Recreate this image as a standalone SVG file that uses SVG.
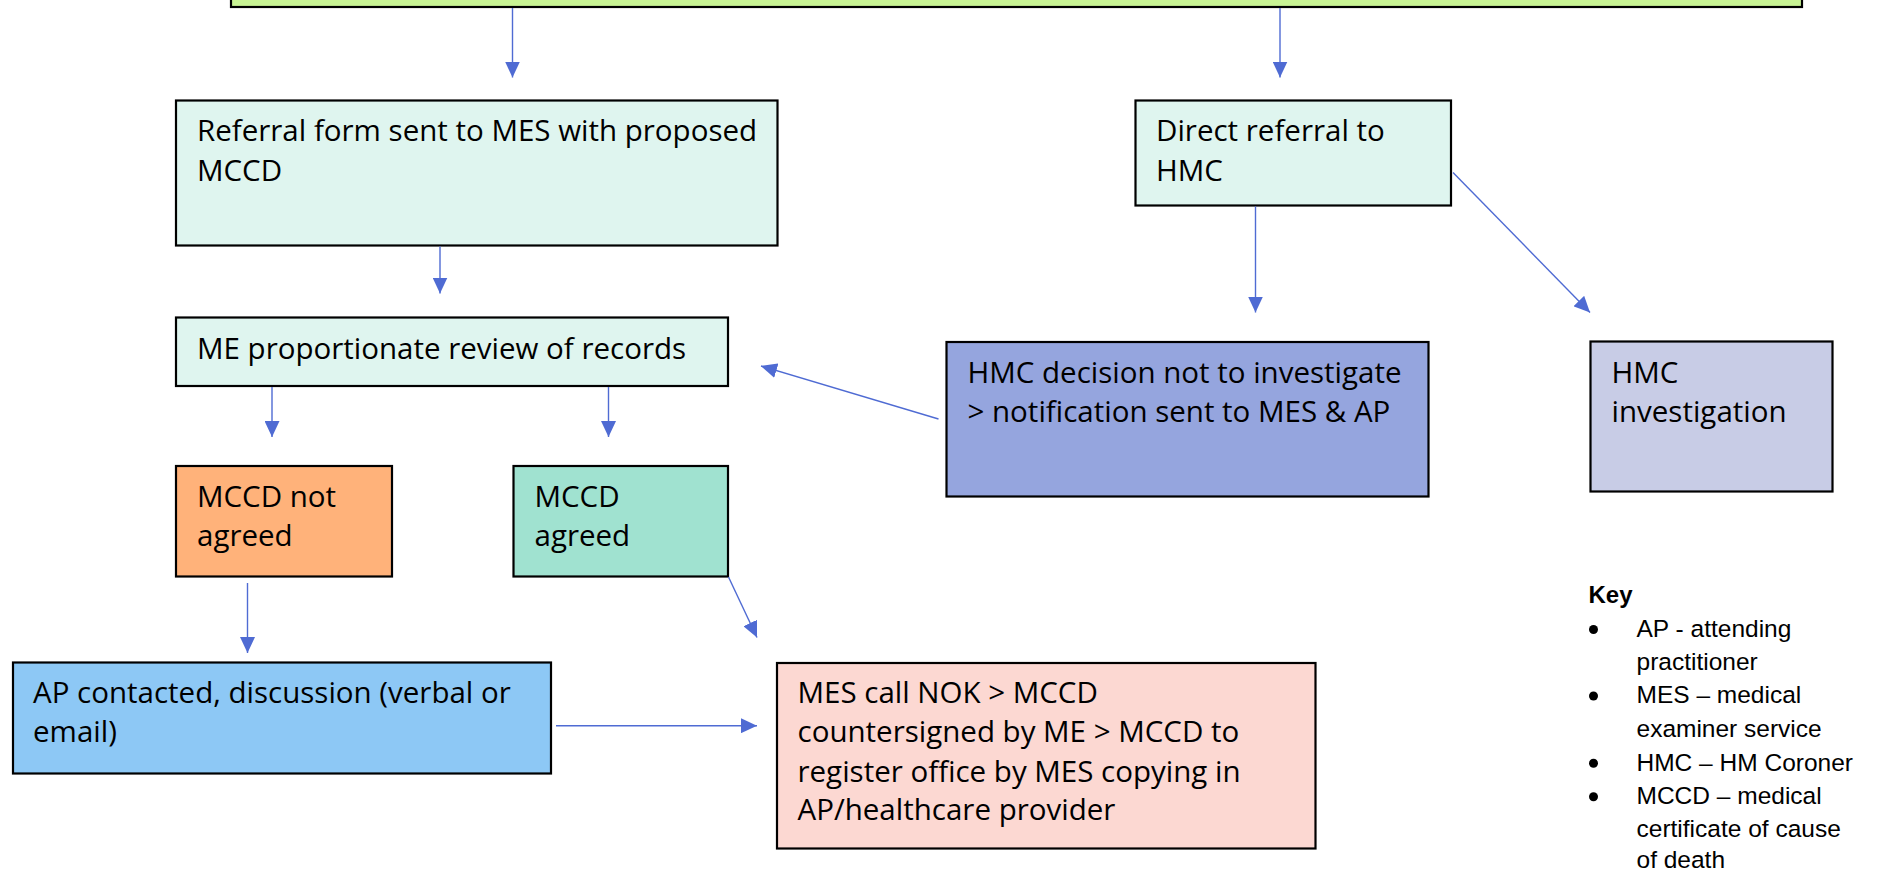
<svg xmlns="http://www.w3.org/2000/svg" width="1877" height="872" viewBox="0 0 1877 872">
<style>
  .box { stroke: #000; stroke-width: 2.2; }
  .t { font-family: "Open Sans", "Liberation Sans", sans-serif; font-size: 29.5px; fill: #000; }
  .k { font-family: "Liberation Sans", Arial, sans-serif; font-size: 24.5px; fill: #000; }
  .kb { font-family: "Liberation Sans", Arial, sans-serif; font-size: 24px; font-weight: bold; fill: #000; }
  .c { stroke: #4f6bd3; stroke-width: 1.4; fill: none; marker-end: url(#ah); }
  .light { fill: #dff5ef; }
</style>
<defs>
  <marker id="ah" markerUnits="userSpaceOnUse" markerWidth="16" markerHeight="15" refX="16" refY="7.5" orient="auto">
    <path d="M0,0 L16,7.5 L0,15 z" fill="#4f6bd3"/>
  </marker>
</defs>
<rect width="1877" height="872" fill="#fff"/>

<g id="top">
  <rect class="box" x="231" y="-30" width="1571" height="37" fill="#c8f494"/>
</g>

<g id="referral">
  <rect class="box light" x="176" y="100.5" width="601.5" height="145"/>
  <text class="t" x="197" y="141">Referral form sent to MES with proposed</text>
  <text class="t" x="197" y="181">MCCD</text>
</g>

<g id="direct">
  <rect class="box light" x="1135.5" y="100.5" width="315.5" height="105"/>
  <text class="t" x="1156" y="141">Direct referral to</text>
  <text class="t" x="1156" y="181">HMC</text>
</g>

<g id="review">
  <rect class="box light" x="176" y="317.5" width="552" height="68.5"/>
  <text class="t" x="197" y="358.5">ME proportionate review of records</text>
</g>

<g id="hmc-decision">
  <rect class="box" x="946.5" y="342" width="482" height="154.5" fill="#95a5de"/>
  <text class="t" x="967.5" y="383">HMC decision not to investigate</text>
  <text class="t" x="967.5" y="421.5">&gt; notification sent to MES &amp; AP</text>
</g>

<g id="hmc-investigation">
  <rect class="box" x="1590.5" y="341.5" width="242" height="150" fill="#c8cce6"/>
  <text class="t" x="1611.5" y="383">HMC</text>
  <text class="t" x="1611.5" y="421.5">investigation</text>
</g>

<g id="not-agreed">
  <rect class="box" x="176" y="466" width="216" height="110.5" fill="#ffb27a"/>
  <text class="t" x="197" y="507">MCCD not</text>
  <text class="t" x="197" y="545.5">agreed</text>
</g>

<g id="agreed">
  <rect class="box" x="513.5" y="466" width="214.5" height="110.5" fill="#a0e2d0"/>
  <text class="t" x="534.5" y="507">MCCD</text>
  <text class="t" x="534.5" y="545.5">agreed</text>
</g>

<g id="ap-contacted">
  <rect class="box" x="13" y="662.5" width="538" height="111" fill="#8dc8f5"/>
  <text class="t" x="33" y="703">AP contacted, discussion (verbal or</text>
  <text class="t" x="33" y="742">email)</text>
</g>

<g id="mes-call">
  <rect class="box" x="777" y="663" width="538.5" height="185.5" fill="#fcd8d2"/>
  <text class="t" x="797.5" y="703">MES call NOK &gt; MCCD</text>
  <text class="t" x="797.5" y="742">countersigned by ME &gt; MCCD to</text>
  <text class="t" x="797.5" y="781.5">register office by MES copying in</text>
  <text class="t" x="797.5" y="820">AP/healthcare provider</text>
</g>

<g id="key">
  <text class="kb" x="1588.5" y="603">Key</text>
  <circle cx="1593.5" cy="629.5" r="4.5"/>
  <text class="k" x="1636.5" y="636.7">AP - attending</text>
  <text class="k" x="1636.5" y="670">practitioner</text>
  <circle cx="1593.5" cy="696" r="4.5"/>
  <text class="k" x="1636.5" y="703.3">MES – medical</text>
  <text class="k" x="1636.5" y="736.7">examiner service</text>
  <circle cx="1593.5" cy="763.3" r="4.5"/>
  <text class="k" x="1636.5" y="770.7">HMC – HM Coroner</text>
  <circle cx="1593.5" cy="796.7" r="4.5"/>
  <text class="k" x="1636.5" y="804">MCCD – medical</text>
  <text class="k" x="1636.5" y="837.3">certificate of cause</text>
  <text class="k" x="1636.5" y="867.5">of death</text>
</g>

<g id="connectors">
  <line class="c" x1="512.5" y1="8" x2="512.5" y2="77.5"/>
  <line class="c" x1="1280" y1="8" x2="1280" y2="77.5"/>
  <line class="c" x1="440" y1="246.5" x2="440" y2="293.5"/>
  <line class="c" x1="272" y1="387" x2="272" y2="437"/>
  <line class="c" x1="608.5" y1="387" x2="608.5" y2="437"/>
  <line class="c" x1="938.5" y1="419" x2="761" y2="366"/>
  <line class="c" x1="1255.5" y1="206.5" x2="1255.5" y2="312.5"/>
  <line class="c" x1="1453" y1="172.5" x2="1590" y2="312.5"/>
  <line class="c" x1="247.5" y1="583" x2="247.5" y2="653"/>
  <line class="c" x1="728.5" y1="577" x2="757" y2="637.5"/>
  <line class="c" x1="556" y1="725.7" x2="757" y2="725.7"/>
</g>
</svg>
